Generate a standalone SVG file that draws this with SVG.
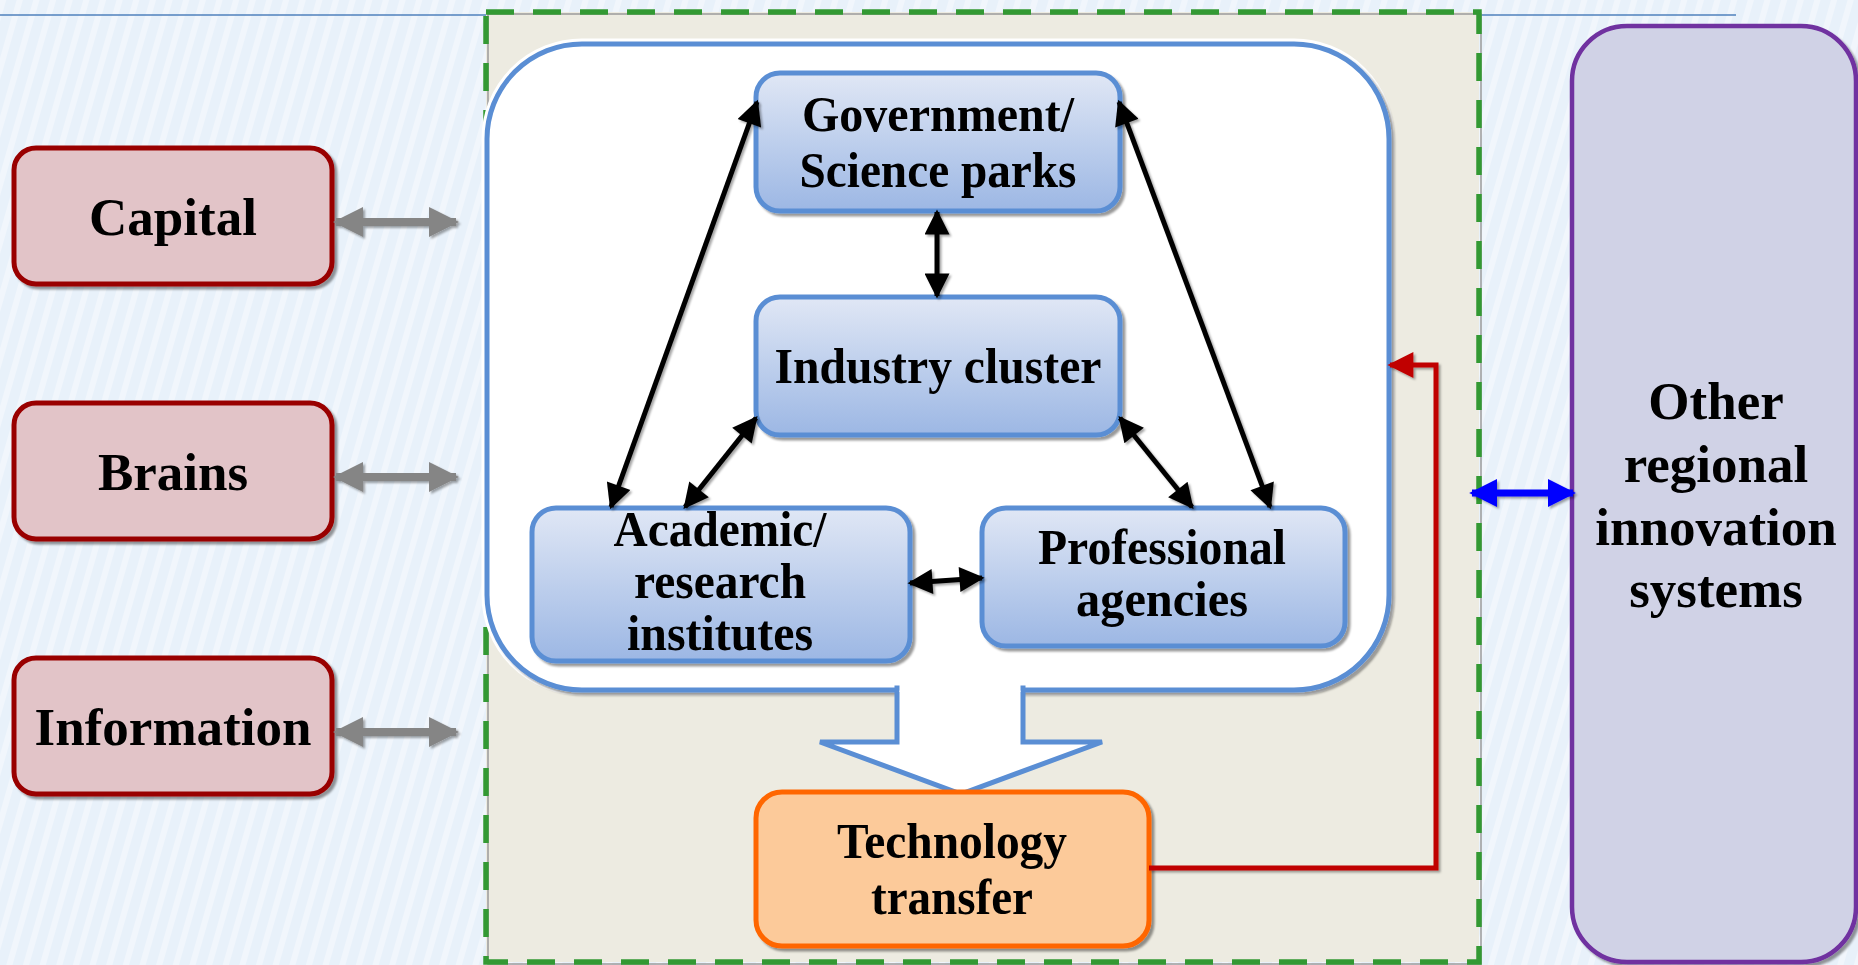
<svg xmlns="http://www.w3.org/2000/svg" width="1858" height="965" viewBox="0 0 1858 965">
<defs>
  <pattern id="stripes" width="16" height="16" patternUnits="userSpaceOnUse" patternTransform="rotate(16)">
    <rect width="16" height="16" fill="#E8F1FA"/>
    <rect width="6" height="16" fill="#F1F6FC"/>
  </pattern>
  <linearGradient id="blueGrad" x1="0" y1="0" x2="0" y2="1">
    <stop offset="0" stop-color="#E0E7F5"/>
    <stop offset="1" stop-color="#9CB7E4"/>
  </linearGradient>
  <filter id="sh" x="-10%" y="-10%" width="130%" height="130%">
    <feDropShadow dx="3" dy="3" stdDeviation="1.2" flood-color="#000" flood-opacity="0.4"/>
  </filter>
  <filter id="lsh" x="-20%" y="-20%" width="140%" height="140%">
    <feDropShadow dx="2" dy="2" stdDeviation="0.8" flood-color="#000" flood-opacity="0.35"/>
  </filter>
  <marker id="mBlack" viewBox="0 0 10 10" refX="9" refY="5" markerWidth="27" markerHeight="25" markerUnits="userSpaceOnUse" orient="auto-start-reverse">
    <path d="M0,0 L10,5 L0,10 z" fill="#000"/>
  </marker>
  <marker id="mGray" viewBox="0 0 10 10" refX="9" refY="5" markerWidth="30" markerHeight="30" markerUnits="userSpaceOnUse" orient="auto-start-reverse">
    <path d="M0,0 L10,5 L0,10 z" fill="#858585"/>
  </marker>
  <marker id="mBlue" viewBox="0 0 10 10" refX="9" refY="5" markerWidth="28" markerHeight="30" markerUnits="userSpaceOnUse" orient="auto-start-reverse">
    <path d="M0,0 L10,5 L0,10 z" fill="#0000FF"/>
  </marker>
  <marker id="mRed" viewBox="0 0 10 10" refX="9" refY="5" markerWidth="27" markerHeight="26" markerUnits="userSpaceOnUse" orient="auto">
    <path d="M0,0 L10,5 L0,10 z" fill="#C00000"/>
  </marker>
</defs>
<style>
  .lbl { font-family: "Liberation Serif", "Times New Roman", serif; font-weight: bold; fill: #000; text-anchor: middle; }
  .big { font-size: 53px; }
  .mid { font-size: 51px; }
  .res { fill: #E2C4C8; stroke: #990000; stroke-width: 5; }
  .inner { fill: url(#blueGrad); stroke: #5A8ED4; stroke-width: 5; }
  .blk { stroke: #000; stroke-width: 5; fill: none; marker-start: url(#mBlack); marker-end: url(#mBlack); }
  .gry { stroke: #858585; stroke-width: 8; fill: none; marker-start: url(#mGray); marker-end: url(#mGray); }
</style>

<!-- background -->
<rect x="0" y="0" width="1858" height="965" fill="url(#stripes)"/>
<line x1="0" y1="15" x2="486" y2="15" stroke="#4F81BD" stroke-width="1.5"/>
<line x1="1479" y1="15" x2="1736" y2="15" stroke="#4F81BD" stroke-width="1.5"/>

<!-- regional system container -->
<g id="regional-system">
  <rect x="486" y="12" width="993" height="950" fill="#EDEBE1"/>
  <rect x="488" y="14" width="993" height="950" fill="none" stroke="#9A9A9A" stroke-width="1.5"/>
  <rect x="486" y="12" width="993" height="950" fill="none" stroke="#339933" stroke-width="5.5" stroke-dasharray="28 19"/>
</g>

<g id="core-container">
  <rect x="487" y="44" width="902" height="646" rx="95" fill="#FFFFFF" stroke="#FFFFFF" stroke-width="11"/>
  <rect x="487" y="44" width="902" height="646" rx="95" fill="#FFFFFF" stroke="#5A8ED4" stroke-width="5" filter="url(#sh)"/>
</g>

<!-- hollow down arrow -->
<g id="flow-arrow">
  <polygon points="897,688 1023,688 1023,742 1102,742 961,794 820,742 897,742" fill="#FFFFFF" stroke="#5A8ED4" stroke-width="5" stroke-linejoin="miter"/>
  <rect x="899.5" y="683" width="121" height="9" fill="#FFFFFF"/>
</g>

<!-- left resources -->
<g id="capital">
  <rect class="res" x="14" y="148" width="318" height="136" rx="22" filter="url(#sh)"/>
  <text class="lbl big" x="173" y="235">Capital</text>
</g>
<g id="brains">
  <rect class="res" x="14" y="403" width="318" height="136" rx="22" filter="url(#sh)"/>
  <text class="lbl big" x="173" y="490">Brains</text>
</g>
<g id="information">
  <rect class="res" x="14" y="658" width="318" height="136" rx="22" filter="url(#sh)"/>
  <text class="lbl big" x="173" y="745">Information</text>
</g>

<!-- inner nodes -->
<g id="government">
  <rect class="inner" x="756" y="73" width="364" height="138" rx="24" filter="url(#sh)"/>
  <text class="lbl mid" x="938" y="131" textLength="272" lengthAdjust="spacingAndGlyphs">Government/</text>
  <text class="lbl mid" x="938" y="187" textLength="277" lengthAdjust="spacingAndGlyphs">Science parks</text>
</g>
<g id="industry">
  <rect class="inner" x="756" y="297" width="364" height="138" rx="24" filter="url(#sh)"/>
  <text class="lbl mid" x="938" y="383" textLength="327" lengthAdjust="spacingAndGlyphs">Industry cluster</text>
</g>
<g id="academic">
  <rect class="inner" x="532" y="508" width="378" height="153" rx="24" filter="url(#sh)"/>
  <text class="lbl mid" x="720" y="546" textLength="213" lengthAdjust="spacingAndGlyphs">Academic/</text>
  <text class="lbl mid" x="720" y="598" textLength="172" lengthAdjust="spacingAndGlyphs">research</text>
  <text class="lbl mid" x="720" y="650" textLength="186" lengthAdjust="spacingAndGlyphs">institutes</text>
</g>
<g id="professional">
  <rect class="inner" x="982" y="508" width="363" height="138" rx="24" filter="url(#sh)"/>
  <text class="lbl mid" x="1162" y="564" textLength="248" lengthAdjust="spacingAndGlyphs">Professional</text>
  <text class="lbl mid" x="1162" y="616" textLength="172" lengthAdjust="spacingAndGlyphs">agencies</text>
</g>
<g id="technology-transfer">
  <rect x="756" y="792" width="393" height="154" rx="26" fill="#FCCA9A" stroke="#FF6600" stroke-width="5" filter="url(#sh)"/>
  <text class="lbl mid" x="952" y="858" textLength="230" lengthAdjust="spacingAndGlyphs">Technology</text>
  <text class="lbl mid" x="952" y="914" textLength="162" lengthAdjust="spacingAndGlyphs">transfer</text>
</g>

<g id="other-regional">
  <rect x="1572" y="26" width="284" height="936" rx="55" fill="#D0D2E6" stroke="#7030A0" stroke-width="4.5" filter="url(#sh)"/>
  <text class="lbl big" x="1716" y="419">Other</text>
  <text class="lbl big" x="1716" y="482">regional</text>
  <text class="lbl big" x="1716" y="545">innovation</text>
  <text class="lbl big" x="1716" y="607">systems</text>
</g>

<!-- connectors -->
<g id="connectors" filter="url(#lsh)">
  <line class="gry" x1="336" y1="222" x2="456" y2="222"/>
  <line class="gry" x1="336" y1="477" x2="456" y2="477"/>
  <line class="gry" x1="336" y1="732" x2="456" y2="732"/>

  <line class="blk" x1="757" y1="102" x2="611" y2="507"/>
  <line class="blk" x1="1119" y1="102" x2="1270" y2="507"/>
  <line class="blk" x1="937" y1="212" x2="937" y2="296"/>
  <line class="blk" x1="756" y1="418" x2="685" y2="507"/>
  <line class="blk" x1="1120" y1="418" x2="1192" y2="507"/>
  <line class="blk" x1="910" y1="583" x2="982" y2="578"/>

  <polyline points="1149,868 1436,868 1436,365 1390,365" fill="none" stroke="#C00000" stroke-width="5" marker-end="url(#mRed)"/>
  <line x1="1472" y1="493" x2="1573" y2="493" stroke="#0000FF" stroke-width="7" marker-start="url(#mBlue)" marker-end="url(#mBlue)"/>
</g>
</svg>
